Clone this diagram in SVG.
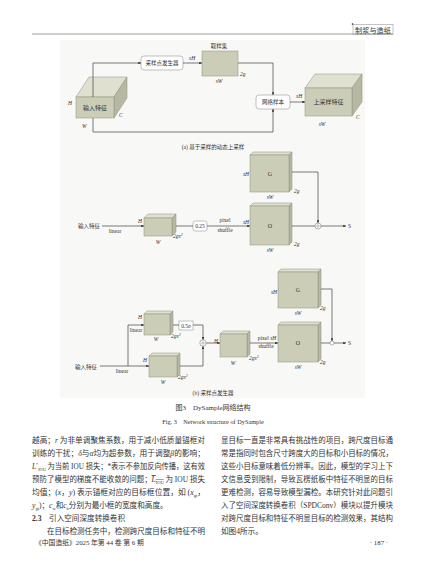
<svg xmlns="http://www.w3.org/2000/svg" width="427" height="579" viewBox="0 0 427 579">
<defs>
<marker id="ah" viewBox="0 0 6 6" refX="6" refY="3" markerWidth="4" markerHeight="4" orient="auto"><path d="M0,0 L6,3 L0,6 z" fill="#333"/></marker>
<style>
.body{font-family:"Liberation Serif","Noto Sans CJK SC",serif;font-size:7.6px;fill:#333}
.lbl{font-family:"Liberation Serif","Noto Sans CJK SC",serif;font-size:5.5px;fill:#333}
.it{font-family:"Liberation Serif",serif;font-style:italic;font-size:5.5px;fill:#333}
.cap{font-family:"Liberation Serif","Noto Sans CJK SC",serif;font-size:5.5px;fill:#333;text-anchor:middle}
.ln{fill:none;stroke:#444;stroke-width:0.7}
.arr{fill:none;stroke:#444;stroke-width:0.7;marker-end:url(#ah)}
.fr{fill:#cbcdb7;stroke:#8f917d;stroke-width:0.5}
.tp{fill:#dfe0cf;stroke:#8f917d;stroke-width:0.5}
.sd{fill:#b6b8a2;stroke:#8f917d;stroke-width:0.5}
.bx{fill:#fff;stroke:#999;stroke-width:0.6}
</style>
</defs>
<rect width="427" height="579" fill="#fff"/>
<!-- header -->
<g id="header">
<line x1="32" y1="34" x2="393" y2="34" stroke="#888" stroke-width="0.8"/>
<rect x="353" y="24.5" width="40" height="10" fill="none" stroke="#999" stroke-width="0.6"/>
<circle cx="352.5" cy="24" r="0.8" fill="#222"/>
<text x="373" y="32.5" class="body" text-anchor="middle" style="font-size:7.2px">制浆与造纸</text>
</g>
<rect x="60" y="40" width="305" height="358" fill="#f8f8f6"/>
<!-- (a) -->
<g id="a-input">
<polygon class="tp" points="76,97 89,77 127,77 114,97"/>
<polygon class="sd" points="114,97 127,77 127,98 114,118"/>
<rect class="fr" x="76" y="97" width="38" height="21"/>
<text x="95" y="110" class="lbl" text-anchor="middle" style="font-size:6px">输入特征</text>
<text x="68" y="105" class="it">H</text>
<text x="82" y="128" class="it">W</text>
<text x="119" y="117" class="it">C</text>
</g>
<g id="a-gen">
<rect class="bx" x="141" y="56" width="42" height="14" rx="3"/>
<text x="162" y="65.3" class="lbl" text-anchor="middle">采样点发生器</text>
</g>
<g id="a-set">
<rect class="fr" x="202" y="51" width="36" height="25"/>
<text x="219" y="47.5" class="lbl" text-anchor="middle">取样集</text>
<text x="189" y="60" class="it">sH</text>
<text x="240" y="76" class="it">2g</text>
<text x="219" y="83" class="it" text-anchor="middle">sW</text>
</g>
<g id="a-grid">
<rect class="bx" x="256" y="95" width="34" height="14" rx="3"/>
<text x="273" y="104.3" class="lbl" text-anchor="middle">网格样本</text>
</g>
<g id="a-up">
<polygon class="tp" points="305,88 315,74 362,74 352,88"/>
<polygon class="sd" points="352,88 362,74 362,102 352,116"/>
<rect class="fr" x="305" y="88" width="47" height="28"/>
<text x="328.5" y="104" class="lbl" text-anchor="middle" style="font-size:6px">上采样特征</text>
<text x="296" y="98" class="it">sH</text>
<text x="322" y="126" class="it" text-anchor="middle">sW</text>
<text x="356" y="119" class="it">C</text>
</g>
<text x="213" y="149" class="cap">(a) 基于采样的动态上采样</text>
<!-- (b) top -->
<g id="b1-G">
<polygon class="tp" points="250,155 253,152 292,152 289,155"/>
<polygon class="sd" points="289,155 292,152 292,189 289,192"/>
<rect class="fr" x="250" y="155" width="39" height="37"/>
<text x="270" y="176" class="lbl" text-anchor="middle" style="font-size:6px">G</text>
<text x="249" y="176" class="it" text-anchor="end">sH</text>
<text x="270" y="199" class="it" text-anchor="middle">sW</text>
<text x="294" y="193" class="it">2g</text>
</g>
<g id="b1-O">
<polygon class="tp" points="250,206 253,203 292,203 289,206"/>
<polygon class="sd" points="289,206 292,203 292,242 289,245"/>
<rect class="fr" x="250" y="206" width="39" height="39"/>
<text x="270" y="228" class="lbl" text-anchor="middle" style="font-size:6px">O</text>
<text x="249" y="224" class="it" text-anchor="end">sH</text>
<text x="270" y="252" class="it" text-anchor="middle">sW</text>
<text x="294" y="246" class="it">2g</text>
</g>
<g id="b1-in">
<text x="100" y="228" class="lbl" text-anchor="end">输入特征</text>
<text x="115" y="233" class="lbl" text-anchor="middle">linear</text>
</g>
<g id="b1-c">
<polygon class="tp" points="144,218 148,214 176,214 172,218"/>
<polygon class="sd" points="172,218 176,214 176,232 172,236"/>
<rect class="fr" x="144" y="218" width="28" height="18"/>
<text x="142" y="223" class="it" text-anchor="end">H</text>
<text x="158" y="244" class="it" text-anchor="middle">W</text>
<text x="173" y="238" class="it">2gs<tspan dy="-2" style="font-size:4px">2</tspan></text>
</g>
<g id="b1-k">
<rect class="bx" x="193" y="221" width="14" height="10" rx="2"/>
<text x="200" y="228" class="lbl" text-anchor="middle">0.25</text>
<text x="225" y="222" class="lbl" text-anchor="middle">pixel</text>
<text x="225" y="232" class="lbl" text-anchor="middle">shuffle</text>
</g>
<g id="b1-sum">
<circle cx="318" cy="226" r="3" fill="#fff" stroke="#666" stroke-width="0.5"/>
<path d="M316,226 H320 M318,224 V228" stroke="#666" stroke-width="0.4"/>
<text x="348" y="228" class="lbl">S</text>
</g>
<!-- (b) bottom -->
<g id="b2-G">
<polygon class="tp" points="278,272 281,269 321,269 318,272"/>
<polygon class="sd" points="318,272 321,269 321,305 318,308"/>
<rect class="fr" x="278" y="272" width="40" height="36"/>
<text x="298" y="292" class="lbl" text-anchor="middle" style="font-size:6px">G</text>
<text x="277" y="294" class="it" text-anchor="end">sH</text>
<text x="298" y="315" class="it" text-anchor="middle">sW</text>
<text x="320" y="310" class="it">2g</text>
</g>
<g id="b2-O">
<polygon class="tp" points="278,325 281,322 321,322 318,325"/>
<polygon class="sd" points="318,325 321,322 321,359 318,362"/>
<rect class="fr" x="278" y="325" width="40" height="37"/>
<text x="298" y="345" class="lbl" text-anchor="middle" style="font-size:6px">O</text>
<text x="298" y="369" class="it" text-anchor="middle">sW</text>
<text x="320" y="364" class="it">2g</text>
</g>
<g id="b2-mid">
<polygon class="tp" points="220,334 223,331 250,331 247,334"/>
<polygon class="sd" points="247,334 250,331 250,354 247,357"/>
<rect class="fr" x="220" y="334" width="27" height="23"/>
<text x="218" y="343" class="it" text-anchor="end">H</text>
<text x="233" y="365" class="it" text-anchor="middle">W</text>
<text x="249" y="360" class="it">2gs<tspan dy="-2" style="font-size:4px">2</tspan></text>
<text x="267" y="340" class="lbl" text-anchor="middle">pixel <tspan font-style="italic">sH</tspan></text>
<text x="266" y="347.5" class="lbl" text-anchor="middle">shuffle</text>
</g>
<g id="b2-up">
<polygon class="tp" points="144,314 147,311 173,311 170,314"/>
<polygon class="sd" points="170,314 173,311 173,332 170,335"/>
<rect class="fr" x="144" y="314" width="26" height="21"/>
<text x="142" y="319" class="it" text-anchor="end">H</text>
<text x="136" y="331.5" class="lbl" text-anchor="middle">linear</text>
<text x="156" y="341" class="it" text-anchor="middle">W</text>
<text x="171" y="338" class="it">2gs<tspan dy="-2" style="font-size:4px">2</tspan></text>
</g>
<g id="b2-k">
<rect class="bx" x="179" y="321" width="14" height="9"/>
<text x="186" y="327.5" class="lbl" text-anchor="middle">0.5<tspan font-style="italic">σ</tspan></text>
</g>
<g id="b2-low">
<polygon class="tp" points="149,356 152,353 180,353 177,356"/>
<polygon class="sd" points="177,356 180,353 180,374 177,377"/>
<rect class="fr" x="149" y="356" width="28" height="21"/>
<text x="147" y="362" class="it" text-anchor="end">H</text>
<text x="163" y="384" class="it" text-anchor="middle">W</text>
<text x="178" y="379" class="it">2gs<tspan dy="-2" style="font-size:4px">2</tspan></text>
</g>
<g id="b2-in">
<text x="97" y="368.5" class="lbl" text-anchor="end">输入特征</text>
<text x="122" y="373" class="lbl" text-anchor="middle">linear</text>
</g>
<g id="b2-add">
<circle cx="203" cy="343" r="3.2" fill="#fff" stroke="#666" stroke-width="0.5"/>
<path d="M200.8,343 H205.2 M203,340.8 V345.2" stroke="#666" stroke-width="0.4"/>
</g>
<g id="b2-sum">
<circle cx="332" cy="343" r="2" fill="#fff" stroke="#666" stroke-width="0.5"/>
<text x="348" y="345" class="lbl">S</text>
</g>
<text x="213" y="395" class="cap">(b) 采样点发生器</text>
<!-- connectors -->
<g id="connectors">
<polyline class="arr" points="93,97 93,63 141,63"/>
<polyline class="arr" points="93,118 93,132 273,132 273,109"/>
<line class="arr" x1="183" y1="63" x2="202" y2="63"/>
<polyline class="arr" points="238,63 273,63 273,95"/>
<line class="arr" x1="290" y1="102" x2="305" y2="102"/>
<line class="arr" x1="102" y1="226" x2="144" y2="226"/>
<line class="ln" x1="176" y1="226" x2="193" y2="226"/>
<line class="arr" x1="207" y1="226" x2="250" y2="226"/>
<polyline class="arr" points="292,172 318,172 318,223"/>
<line class="ln" x1="292" y1="226" x2="315" y2="226"/>
<line class="arr" x1="321" y1="226" x2="346" y2="226"/>
<line class="arr" x1="100" y1="366" x2="149" y2="366"/>
<polyline class="arr" points="128,366 128,325 144,325"/>
<line class="ln" x1="173" y1="325" x2="179" y2="325"/>
<polyline class="arr" points="193,325 203,325 203,339.8"/>
<polyline class="arr" points="180,366 203,366 203,346.2"/>
<line class="arr" x1="206.2" y1="343" x2="220" y2="343"/>
<line class="arr" x1="250" y1="343" x2="278" y2="343"/>
<polyline class="arr" points="321,289 332,289 332,341"/>
<line class="ln" x1="321" y1="343" x2="330" y2="343"/>
<line class="arr" x1="334" y1="343" x2="346" y2="343"/>
</g>
<!-- captions -->
<text x="213" y="410" class="body" text-anchor="middle" style="font-size:7px">图3　DySample网络结构</text>
<text x="213" y="424" class="body" text-anchor="middle" style="font-size:6.3px">Fig. 3　Network structure of DySample</text>
<!-- body text left -->
<g id="left-col" class="body">
<text x="32" y="443" textLength="173" lengthAdjust="spacingAndGlyphs">越高；<tspan font-style="italic">r</tspan> 为非单调聚焦系数，用于减小低质量锚框对</text>
<text x="32" y="456" textLength="173" lengthAdjust="spacingAndGlyphs">训练的干扰；<tspan font-style="italic">δ</tspan>与<tspan font-style="italic">α</tspan>均为超参数，用于调整<tspan font-style="italic">β</tspan>的影响；</text>
<text x="32" y="469" textLength="173" lengthAdjust="spacingAndGlyphs"><tspan font-style="italic">L</tspan><tspan dy="-3" style="font-size:4.5px">*</tspan><tspan dy="4.5" style="font-size:4.5px">IOU</tspan><tspan dy="-1.5"> 为当前 IOU 损失；*表示不参加反向传播，这有效</tspan></text>
<text x="32" y="482" textLength="173" lengthAdjust="spacingAndGlyphs">预防了模型的梯度不能收敛的问题；<tspan font-style="italic" text-decoration="overline">L</tspan><tspan dy="1.5" style="font-size:4.5px" text-decoration="overline">IOU</tspan><tspan dy="-1.5"> 为 IOU 损失</tspan></text>
<text x="32" y="495" textLength="173" lengthAdjust="spacingAndGlyphs">均值；(<tspan font-style="italic">x</tspan>，<tspan font-style="italic">y</tspan>) 表示锚框对应的目标框位置，如 (<tspan font-style="italic">x</tspan><tspan dy="1.5" style="font-size:4.5px">gt</tspan><tspan dy="-1.5">，</tspan></text>
<text x="32" y="508"><tspan font-style="italic">y</tspan><tspan dy="1.5" style="font-size:4.5px">gt</tspan><tspan dy="-1.5">)；</tspan><tspan font-style="italic">c</tspan><tspan dy="1.5" style="font-size:4.5px">w</tspan><tspan dy="-1.5">和</tspan><tspan font-style="italic">c</tspan><tspan dy="1.5" style="font-size:4.5px">h</tspan><tspan dy="-1.5">分别为最小框的宽度和高度。</tspan></text>
<text x="32" y="521"><tspan font-weight="bold">2.3</tspan>　引入空间深度转换卷积</text>
<text x="47" y="534" textLength="158" lengthAdjust="spacingAndGlyphs">在目标检测任务中，检测跨尺度目标和特征不明</text>
</g>
<!-- body text right -->
<g id="right-col" class="body">
<text x="221" y="443" textLength="172" lengthAdjust="spacingAndGlyphs">显目标一直是非常具有挑战性的项目，跨尺度目标通</text>
<text x="221" y="456" textLength="172" lengthAdjust="spacingAndGlyphs">常是指同时包含尺寸跨度大的目标和小目标的情况，</text>
<text x="221" y="469" textLength="172" lengthAdjust="spacingAndGlyphs">这些小目标意味着低分辨率。因此，模型的学习上下</text>
<text x="221" y="482" textLength="172" lengthAdjust="spacingAndGlyphs">文信息受到限制，导致瓦楞纸板中特征不明显的目标</text>
<text x="221" y="495" textLength="172" lengthAdjust="spacingAndGlyphs">更难检测，容易导致模型漏检。本研究针对此问题引</text>
<text x="221" y="508" textLength="172" lengthAdjust="spacingAndGlyphs">入了空间深度转换卷积（SPDConv）模块以提升模块</text>
<text x="221" y="521" textLength="172" lengthAdjust="spacingAndGlyphs">对跨尺度目标和特征不明显目标的检测效果，其结构</text>
<text x="221" y="534">如图4所示。</text>
</g>
<g id="footer" class="body" style="font-size:6.8px">
<text x="35" y="545">《中国造纸》2025 年第 44 卷 第 6 期</text>
<text x="388" y="545" text-anchor="end">· 187 ·</text>
</g>
</svg>
